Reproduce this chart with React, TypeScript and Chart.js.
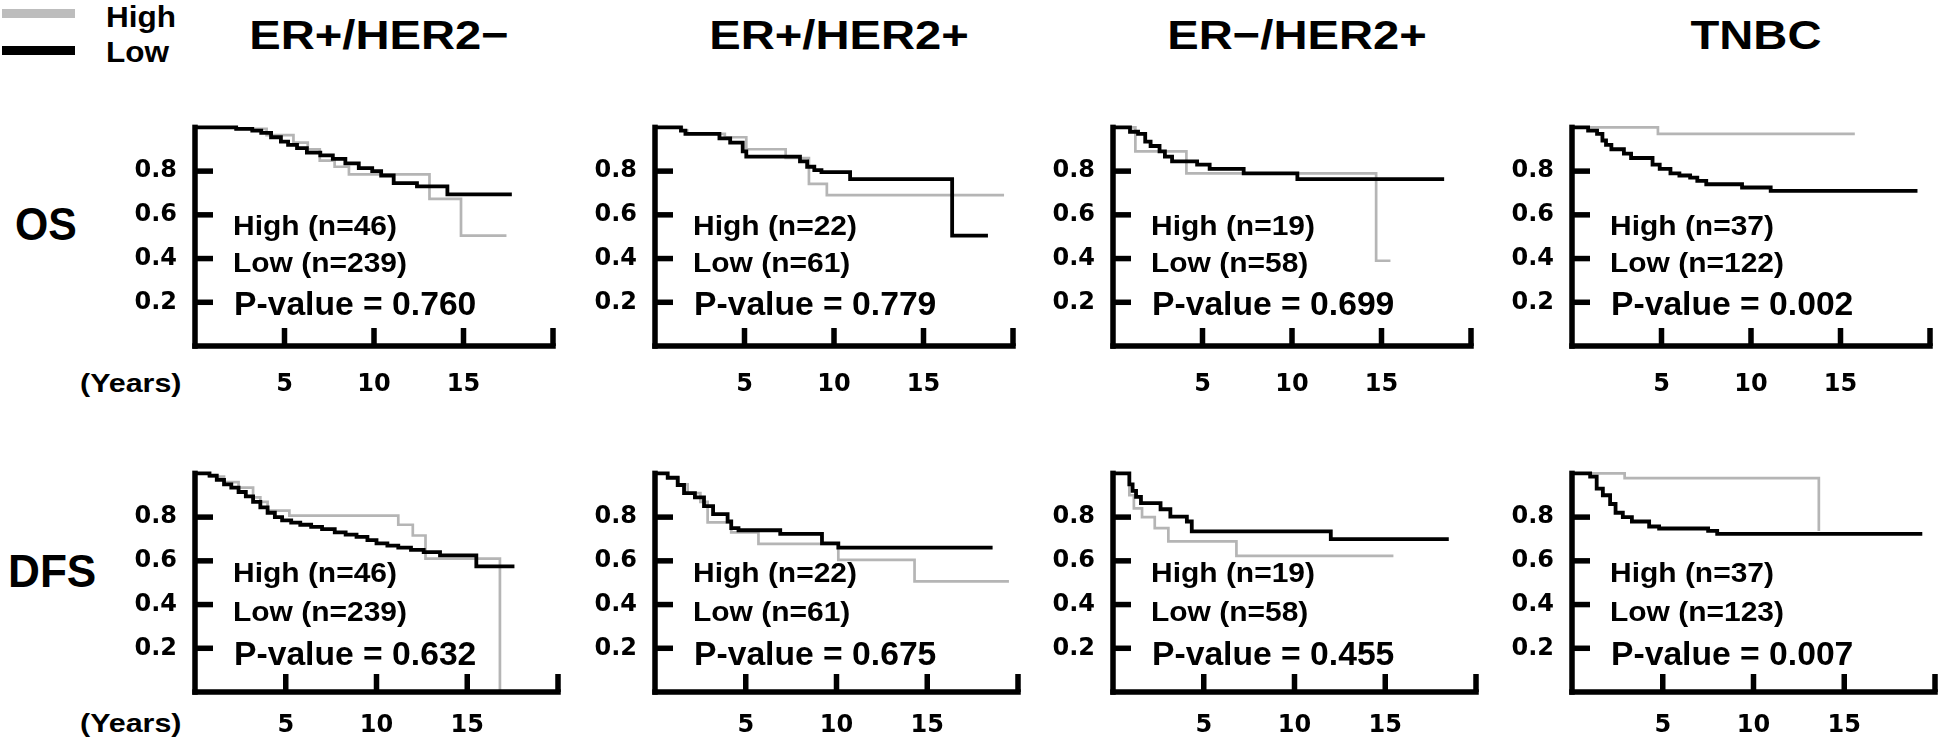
import React, { useEffect, useRef } from 'react';
import { Chart, registerables } from 'chart.js';

Chart.register(...registerables);

type Pt = [number, number];

// ---------- text data ----------
const SUBTYPES = ['ER+/HER2−', 'ER+/HER2+', 'ER−/HER2+', 'TNBC'];
const ENDPOINTS = ['OS', 'DFS'];
const GROUPS = ['High', 'Low'];
const OS_HIGH_N = [46, 22, 19, 37];
const OS_LOW_N = [239, 61, 58, 122];
const DFS_HIGH_N = [46, 22, 19, 37];
const DFS_LOW_N = [239, 61, 58, 123];
const OS_P = ['0.760', '0.779', '0.699', '0.002'];
const DFS_P = ['0.632', '0.675', '0.455', '0.007'];
const X_UNIT = '(Years)';

// ---------- axis ticks ----------
const Y_TICKS = [0.2, 0.4, 0.6, 0.8];
const Y_TICK_LABELS = ['0.2', '0.4', '0.6', '0.8'];
const X_TICKS = [5, 10, 15, 20];
const X_TICK_LABELS = ['5', '10', '15', ''];
const X_MAX = 20;
const Y_MAX = 1;

// ---------- Kaplan–Meier curves: [years, survival] ----------
const OS_ERPOS_HER2NEG_LOW: Pt[] = [[0, 1], [2.3, 0.993], [3.2, 0.985], [3.7, 0.975], [4.25, 0.955], [4.8, 0.935], [5.2, 0.92], [5.7, 0.905], [6.25, 0.885], [7.0, 0.872], [7.7, 0.856], [8.4, 0.835], [9.15, 0.814], [9.9, 0.8], [10.4, 0.78], [11.1, 0.745], [12.4, 0.73], [14.1, 0.694], [17.7, 0.694]];
const OS_ERPOS_HER2NEG_HIGH: Pt[] = [[0, 1], [2.3, 0.993], [4.0, 0.965], [5.5, 0.93], [6.3, 0.9], [6.97, 0.848], [7.8, 0.82], [8.6, 0.785], [13.1, 0.673], [14.86, 0.505], [17.4, 0.505]];
const OS_ERPOS_HER2POS_LOW: Pt[] = [[0, 1], [1.45, 0.985], [1.7, 0.97], [3.6, 0.95], [4.2, 0.93], [4.9, 0.89], [5.1, 0.866], [8.1, 0.845], [8.5, 0.82], [8.9, 0.805], [9.3, 0.795], [10.9, 0.763], [16.6, 0.505], [18.6, 0.505]];
const OS_ERPOS_HER2POS_HIGH: Pt[] = [[0, 1], [1.5, 0.985], [1.8, 0.97], [3.9, 0.955], [5.1, 0.9], [7.3, 0.86], [8.6, 0.742], [9.6, 0.69], [19.5, 0.69]];
const OS_ERNEG_HER2POS_LOW: Pt[] = [[0, 1], [0.95, 0.98], [1.4, 0.97], [1.8, 0.935], [2.1, 0.915], [2.6, 0.89], [2.9, 0.866], [3.3, 0.845], [4.7, 0.83], [5.4, 0.81], [7.3, 0.79], [10.3, 0.763], [18.5, 0.763]];
const OS_ERNEG_HER2POS_HIGH: Pt[] = [[0, 1], [1.25, 0.89], [4.1, 0.79], [14.7, 0.39], [15.5, 0.39]];
const OS_TNBC_LOW: Pt[] = [[0, 1], [0.9, 0.985], [1.4, 0.97], [1.7, 0.94], [1.9, 0.92], [2.2, 0.9], [2.9, 0.88], [3.3, 0.86], [4.5, 0.83], [4.9, 0.81], [5.5, 0.79], [6.0, 0.78], [6.6, 0.77], [7.0, 0.755], [7.5, 0.74], [9.5, 0.725], [11.1, 0.71], [19.3, 0.71]];
const OS_TNBC_HIGH: Pt[] = [[0, 1], [4.8, 0.97], [15.8, 0.97]];

const DFS_ERPOS_HER2NEG_LOW: Pt[] = [[0, 1], [0.8, 0.99], [1.2, 0.97], [1.6, 0.95], [2.0, 0.935], [2.4, 0.915], [2.8, 0.895], [3.2, 0.87], [3.6, 0.845], [4.0, 0.82], [4.4, 0.8], [4.8, 0.785], [5.3, 0.775], [5.8, 0.765], [6.4, 0.755], [7.0, 0.745], [7.7, 0.73], [8.3, 0.72], [8.9, 0.71], [9.5, 0.695], [10.0, 0.68], [10.6, 0.67], [11.2, 0.66], [11.9, 0.65], [12.6, 0.64], [13.5, 0.625], [15.5, 0.575], [17.6, 0.575]];
const DFS_ERPOS_HER2NEG_HIGH: Pt[] = [[0, 1], [0.8, 0.985], [1.6, 0.96], [2.4, 0.935], [3.2, 0.89], [3.6, 0.87], [4.0, 0.83], [5.2, 0.807], [11.2, 0.765], [12.0, 0.716], [12.7, 0.61], [16.8, 0]];
const DFS_ERPOS_HER2POS_LOW: Pt[] = [[0, 1], [0.7, 0.98], [1.25, 0.947], [1.6, 0.91], [2.2, 0.89], [2.7, 0.85], [3.2, 0.814], [4.0, 0.78], [4.2, 0.75], [4.6, 0.74], [6.9, 0.723], [9.2, 0.68], [10.1, 0.66], [18.6, 0.66]];
const DFS_ERPOS_HER2POS_HIGH: Pt[] = [[0, 1], [0.7, 0.98], [1.3, 0.95], [1.8, 0.91], [2.5, 0.87], [2.9, 0.776], [4.2, 0.73], [5.7, 0.678], [10.1, 0.604], [14.3, 0.506], [19.5, 0.506]];
const DFS_ERNEG_HER2POS_LOW: Pt[] = [[0, 1], [0.9, 0.95], [1.08, 0.92], [1.27, 0.893], [1.54, 0.864], [2.62, 0.836], [3.16, 0.802], [4.07, 0.78], [4.34, 0.735], [12.0, 0.699], [18.5, 0.699]];
const DFS_ERNEG_HER2POS_HIGH: Pt[] = [[0, 1], [0.9, 0.9], [1.15, 0.84], [1.6, 0.8], [2.3, 0.75], [3.05, 0.689], [6.8, 0.623], [15.45, 0.623]];
const DFS_TNBC_LOW: Pt[] = [[0, 1], [1.0, 0.985], [1.36, 0.93], [1.7, 0.9], [2.1, 0.86], [2.4, 0.82], [2.8, 0.8], [3.3, 0.78], [4.25, 0.757], [4.8, 0.748], [7.5, 0.737], [8.0, 0.723], [19.3, 0.723]];
const DFS_TNBC_HIGH: Pt[] = [[0, 1], [2.9, 0.978], [13.6, 0.737]];

const OS_LOW = [OS_ERPOS_HER2NEG_LOW, OS_ERPOS_HER2POS_LOW, OS_ERNEG_HER2POS_LOW, OS_TNBC_LOW];
const OS_HIGH = [OS_ERPOS_HER2NEG_HIGH, OS_ERPOS_HER2POS_HIGH, OS_ERNEG_HER2POS_HIGH, OS_TNBC_HIGH];
const DFS_LOW = [DFS_ERPOS_HER2NEG_LOW, DFS_ERPOS_HER2POS_LOW, DFS_ERNEG_HER2POS_LOW, DFS_TNBC_LOW];
const DFS_HIGH = [DFS_ERPOS_HER2NEG_HIGH, DFS_ERPOS_HER2POS_HIGH, DFS_ERNEG_HER2POS_HIGH, DFS_TNBC_HIGH];

// ---------- layout / style ----------
const FONT = '"Liberation Sans", Arial, Helvetica, sans-serif';
const TICK_FONT = '"DejaVu Sans", "Liberation Sans", Arial, sans-serif';
const GRAY = '#b5b5b5';
const COL_X = [195, 655, 1113, 1572];
const PLOT_W = 368;
const ROW_TOP = [109, 455];
const PLOT_H = 237;
const X_LABEL_PAD = [24, 19];
const PAD_L = 90, PAD_T = 14, PAD_R = 14, PAD_B = 64;
const AXIS_W = 5.5;
const TICK_LEN = 18; // px

// draws the axis frame and the inward tick marks from the chart's own scales
const kmFrame = {
  id: 'kmFrame',
  afterDatasetsDraw(chart: any) {
    const { ctx, chartArea, scales } = chart;
    const xs = scales.x;
    const ys = scales.y;
    const x0 = xs.getPixelForValue(0);
    const x1 = xs.getPixelForValue(X_MAX);
    const y0 = ys.getPixelForValue(0);
    const y1 = ys.getPixelForValue(Y_MAX);
    ctx.save();
    ctx.fillStyle = '#000';
    const hw = AXIS_W / 2;
    // y axis and x axis as filled rectangles
    ctx.fillRect(x0 - hw, y1 - hw, AXIS_W, y0 - y1 + AXIS_W);
    ctx.fillRect(x0 - hw, y0 - hw, x1 - x0 + AXIS_W, AXIS_W);
    X_TICKS.forEach((v) => {
      const px = xs.getPixelForValue(v);
      ctx.fillRect(px - hw, y0 - TICK_LEN, AXIS_W, TICK_LEN);
    });
    Y_TICKS.forEach((v) => {
      const py = ys.getPixelForValue(v);
      ctx.fillRect(x0, py - hw, TICK_LEN, AXIS_W);
    });
    ctx.restore();
    void chartArea;
  },
};

function KMPanel({ low, high, col, row }: { low: Pt[]; high: Pt[]; col: number; row: number }) {
  const ref = useRef<HTMLCanvasElement | null>(null);
  const w = PAD_L + PLOT_W + PAD_R;
  const h = PAD_T + PLOT_H + PAD_B;
  useEffect(() => {
    const tickFont = { family: TICK_FONT, size: 24, weight: 'bold' as const };
    const chart = new Chart(ref.current as HTMLCanvasElement, {
      type: 'line',
      data: {
        datasets: [
          {
            label: GROUPS[1],
            data: low.map(([x, y]) => ({ x, y })),
            borderColor: '#000',
            borderWidth: 3.8,
            stepped: true,
            pointRadius: 0,
            fill: false,
            clip: false as any,
            borderJoinStyle: 'miter',
          },
          {
            label: GROUPS[0],
            data: high.map(([x, y]) => ({ x, y })),
            borderColor: GRAY,
            borderWidth: 2.7,
            stepped: true,
            pointRadius: 0,
            fill: false,
            clip: false as any,
            borderJoinStyle: 'miter',
          },
        ],
      },
      options: {
        animation: false,
        responsive: false,
        maintainAspectRatio: false,
        events: [],
        layout: { padding: { left: 0, top: PAD_T, right: PAD_R, bottom: 0 } },
        plugins: { legend: { display: false }, tooltip: { enabled: false }, title: { display: false } },
        scales: {
          x: {
            type: 'linear',
            min: 0,
            max: X_MAX,
            grid: { display: false, drawTicks: false },
            border: { display: false },
            afterBuildTicks: (s: any) => {
              s.ticks = X_TICKS.map((v) => ({ value: v }));
            },
            ticks: {
              autoSkip: false,
              maxRotation: 0,
              color: '#000',
              font: tickFont,
              padding: X_LABEL_PAD[row],
              callback: (v: any) => X_TICK_LABELS[X_TICKS.indexOf(Number(v))] ?? '',
            },
            afterFit: (s: any) => {
              s.height = PAD_B;
            },
          },
          y: {
            type: 'linear',
            min: 0,
            max: Y_MAX,
            grid: { display: false, drawTicks: false },
            border: { display: false },
            afterBuildTicks: (s: any) => {
              s.ticks = Y_TICKS.map((v) => ({ value: v }));
            },
            ticks: {
              autoSkip: false,
              color: '#000',
              font: tickFont,
              padding: 18,
              callback: (v: any) => {
                const i = Y_TICKS.findIndex((t) => Math.abs(t - Number(v)) < 1e-6);
                return i >= 0 ? Y_TICK_LABELS[i] : '';
              },
            },
            afterFit: (s: any) => {
              s.width = PAD_L;
            },
          },
        },
      } as any,
      plugins: [kmFrame],
    });
    return () => chart.destroy();
  }, [low, high, row]);
  return (
    <canvas
      ref={ref}
      width={w}
      height={h}
      style={{ position: 'absolute', left: COL_X[col] - PAD_L, top: ROW_TOP[row] - PAD_T, width: w, height: h }}
    />
  );
}

function Label({ text, x, base, size, sx = 1, center = false }: { text: string; x: number; base: number; size: number; sx?: number; center?: boolean }) {
  const top = base - 0.8465 * size;
  const common: React.CSSProperties = {
    position: 'absolute',
    top,
    fontFamily: FONT,
    fontWeight: 700,
    fontSize: size,
    lineHeight: `${size}px`,
    whiteSpace: 'nowrap',
    color: '#000',
  };
  if (center) {
    return (
      <div style={{ ...common, left: x - 400, width: 800, textAlign: 'center', transform: `scaleX(${sx})`, transformOrigin: 'center top' }}>
        {text}
      </div>
    );
  }
  return <div style={{ ...common, left: x, transform: `scaleX(${sx})`, transformOrigin: 'left top' }}>{text}</div>;
}

const ROW_HIGH_BASE = [236, 583];
const ROW_LOW_BASE = [273, 622];
const ROW_P_BASE = [315, 665];
const ROW_LABEL_BASE = [240, 587];
const ROW_LABEL_X = [15, 8];
const ROW_LABEL_SX = [0.93, 0.96];
const YEARS_BASE = [392, 732];

export default function App() {
  const rows = [
    { low: OS_LOW, high: OS_HIGH, hn: OS_HIGH_N, ln: OS_LOW_N, p: OS_P },
    { low: DFS_LOW, high: DFS_HIGH, hn: DFS_HIGH_N, ln: DFS_LOW_N, p: DFS_P },
  ];
  return (
    <div style={{ position: 'absolute', left: 0, top: 0, width: 1946, height: 743, background: '#fff', overflow: 'hidden' }}>
      {/* legend */}
      <div style={{ position: 'absolute', left: 2, top: 9, width: 73, height: 8.5, background: '#bdbdbd' }} />
      <div style={{ position: 'absolute', left: 2, top: 46, width: 73, height: 8.5, background: '#000' }} />
      <Label text={GROUPS[0]} x={106} base={27} size={30} sx={1.05} />
      <Label text={GROUPS[1]} x={106} base={62} size={30} sx={1.05} />
      {/* titles */}
      {SUBTYPES.map((t, i) => (
        <Label key={t} text={t} x={COL_X[i] + PLOT_W / 2} base={50} size={41} sx={1.15} center />
      ))}
      {rows.map((r, ri) => (
        <React.Fragment key={ri}>
          <Label text={ENDPOINTS[ri]} x={ROW_LABEL_X[ri]} base={ROW_LABEL_BASE[ri]} size={46} sx={ROW_LABEL_SX[ri]} />
          <Label text={X_UNIT} x={80} base={YEARS_BASE[ri]} size={26} sx={1.17} />
          {SUBTYPES.map((_, ci) => (
            <React.Fragment key={ci}>
              <KMPanel low={r.low[ci]} high={r.high[ci]} col={ci} row={ri} />
              <Label text={`${GROUPS[0]} (n=${r.hn[ci]})`} x={COL_X[ci] + 38} base={ROW_HIGH_BASE[ri]} size={28} sx={1.07} />
              <Label text={`${GROUPS[1]} (n=${r.ln[ci]})`} x={COL_X[ci] + 38} base={ROW_LOW_BASE[ri]} size={28} sx={1.07} />
              <Label text={`P-value = ${r.p[ci]}`} x={COL_X[ci] + 39} base={ROW_P_BASE[ri]} size={34} sx={0.99} />
            </React.Fragment>
          ))}
        </React.Fragment>
      ))}
    </div>
  );
}
